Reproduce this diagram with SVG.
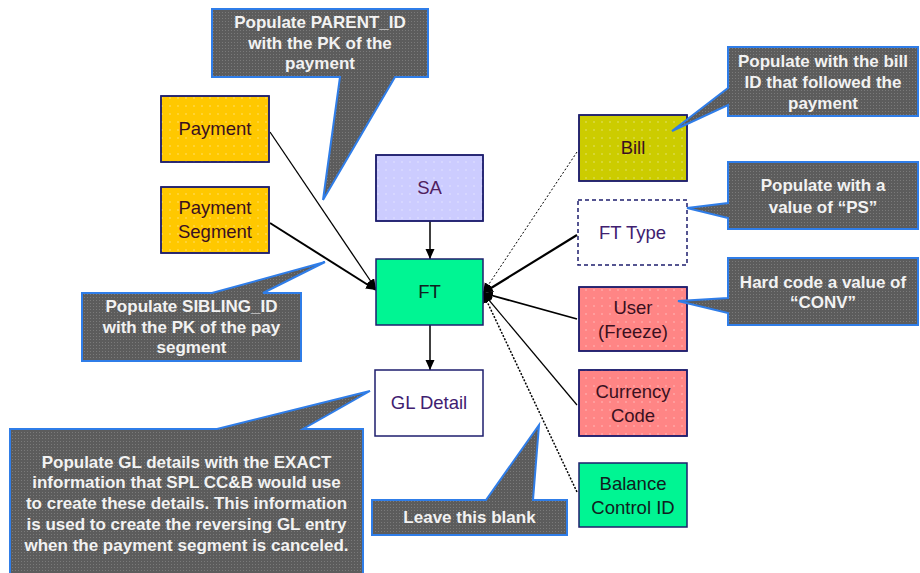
<svg xmlns="http://www.w3.org/2000/svg" width="920" height="573" viewBox="0 0 920 573">
<defs>
<pattern id="dots" width="8" height="8" patternUnits="userSpaceOnUse"><circle cx="2" cy="2" r="0.8" fill="#ffffff" fill-opacity="0.45"/></pattern>
<pattern id="grain" width="3" height="3" patternUnits="userSpaceOnUse"><rect width="3" height="3" fill="#5c5c5c"/><rect x="0" y="0" width="1" height="1" fill="#7a7a7a"/></pattern>
<marker id="arr" markerUnits="userSpaceOnUse" markerWidth="12" markerHeight="10" refX="10" refY="4.5" orient="auto"><path d="M0,0 L10,4.5 L0,9 Z" fill="#000"/></marker>
</defs>
<style>
.node rect{stroke:#1e1e6e;stroke-width:1.5}
.nt{font-family:"Liberation Sans",Arial,sans-serif;font-size:18.5px;text-anchor:middle;fill:#3a1020}
.call{fill:url(#grain);stroke:#2f7de8;stroke-width:2}
.ct{font-family:"Liberation Sans",Arial,sans-serif;font-size:17px;font-weight:bold;text-anchor:middle;fill:#f2f2f2}
.conn path{fill:none;stroke:#000;marker-end:url(#arr)}
</style>
<rect width="920" height="573" fill="#ffffff"/>

<g id="connectors" class="conn">
<path d="M270,132 L376,289" stroke-width="1.3"/>
<path d="M270,223 L376,290" stroke-width="2"/>
<path d="M430,221 L430,259" stroke-width="1.5"/>
<path d="M430,325 L430,370" stroke-width="1.5"/>
<path d="M577,152 L483,293" stroke-width="1" stroke-dasharray="2,2"/>
<path d="M577,235 L483,293" stroke-width="2.2"/>
<path d="M577,319 L483,293" stroke-width="1.8"/>
<path d="M577,405 L483,293" stroke-width="1.2"/>
<path d="M577,492 L483,293" stroke-width="1.5" stroke-dasharray="2,1.5"/>
</g>

<g id="payment" class="node"><rect x="161" y="96" width="108" height="66" fill="#ffc800"/><rect x="161" y="96" width="108" height="66" fill="url(#dots)" stroke="none"/><text class="nt" x="215" y="135">Payment</text></g>
<g id="payment-segment" class="node"><rect x="161" y="187" width="108" height="66" fill="#ffc800"/><rect x="161" y="187" width="108" height="66" fill="url(#dots)" stroke="none"/><text class="nt" x="215" y="214">Payment</text><text class="nt" x="215" y="238">Segment</text></g>
<g id="sa" class="node"><rect x="376" y="155" width="107" height="66" fill="#ccccff"/><rect x="376" y="155" width="107" height="66" fill="url(#dots)" stroke="none"/><text class="nt" x="429.5" y="194" fill="#502060" style="fill:#502060">SA</text></g>
<g id="ft" class="node"><rect x="376" y="259" width="107" height="66" fill="#00f593"/><text class="nt" x="429.5" y="298" style="fill:#102020">FT</text></g>
<g id="gl-detail" class="node"><rect x="375" y="370" width="108" height="66" fill="#ffffff"/><text class="nt" x="429" y="409" style="fill:#402070">GL Detail</text></g>
<g id="bill" class="node"><rect x="579" y="115" width="108" height="66" fill="#cccc00"/><rect x="579" y="115" width="108" height="66" fill="url(#dots)" stroke="none"/><text class="nt" x="633" y="154">Bill</text></g>
<g id="ft-type" class="node"><rect x="578" y="200" width="109" height="65" fill="#ffffff" stroke-dasharray="4,3"/><text class="nt" x="632.5" y="239" style="fill:#402070">FT Type</text></g>
<g id="user" class="node"><rect x="579" y="287" width="108" height="64" fill="#ff8585"/><rect x="579" y="287" width="108" height="64" fill="url(#dots)" stroke="none"/><text class="nt" x="633" y="314">User</text><text class="nt" x="633" y="338">(Freeze)</text></g>
<g id="currency-code" class="node"><rect x="579" y="370" width="108" height="66" fill="#ff8585"/><rect x="579" y="370" width="108" height="66" fill="url(#dots)" stroke="none"/><text class="nt" x="633" y="398">Currency</text><text class="nt" x="633" y="422">Code</text></g>
<g id="balance-control-id" class="node"><rect x="579" y="463" width="108" height="64" fill="#00f593"/><text class="nt" x="633" y="490" style="fill:#102020">Balance</text><text class="nt" x="633" y="514" style="fill:#102020">Control ID</text></g>

<g id="callout-parent">
<path class="call" d="M212,9 H428 V77 H395 L323,200 L340,77 H212 Z"/>
<text class="ct" x="320" y="28">Populate PARENT_ID</text>
<text class="ct" x="320" y="49">with the PK of the</text>
<text class="ct" x="320" y="69">payment</text>
</g>
<g id="callout-sibling">
<path class="call" d="M82,293 H212 L325,262 L263,293 H301 V361 H82 Z"/>
<text class="ct" x="191.5" y="312">Populate SIBLING_ID</text>
<text class="ct" x="191.5" y="333">with the PK of the pay</text>
<text class="ct" x="191.5" y="353">segment</text>
</g>
<g id="callout-bill">
<path class="call" d="M728,47 H918 V116 H728 V105 L672,131 L728,88 Z"/>
<text class="ct" x="823" y="67">Populate with the bill</text>
<text class="ct" x="823" y="88">ID that followed the</text>
<text class="ct" x="823" y="109">payment</text>
</g>
<g id="callout-fttype">
<path class="call" d="M728,162 H918 V229 H728 V218 L687,208 L728,203 Z"/>
<text class="ct" x="823" y="191">Populate with a</text>
<text class="ct" x="823" y="213">value of “PS”</text>
</g>
<g id="callout-user">
<path class="call" d="M728,258 H918 V325 H728 V313 L678,301 L728,298 Z"/>
<text class="ct" x="823" y="288">Hard code a value of</text>
<text class="ct" x="823" y="308">“CONV”</text>
</g>
<g id="callout-gl">
<path class="call" d="M10,429 H217 L370,391 L303,429 H363 V576 H10 Z"/>
<text class="ct" x="186.5" y="468">Populate GL details with the EXACT</text>
<text class="ct" x="186.5" y="488">information that SPL CC&amp;B would use</text>
<text class="ct" x="186.5" y="509">to create these details. This information</text>
<text class="ct" x="186.5" y="530">is used to create the reversing GL entry</text>
<text class="ct" x="186.5" y="551">when the payment segment is canceled.</text>
</g>
<g id="callout-blank">
<path class="call" d="M372,500 H486 L539,425 L533,500 H567 V535 H372 Z"/>
<text class="ct" x="469.5" y="523">Leave this blank</text>
</g>
</svg>
